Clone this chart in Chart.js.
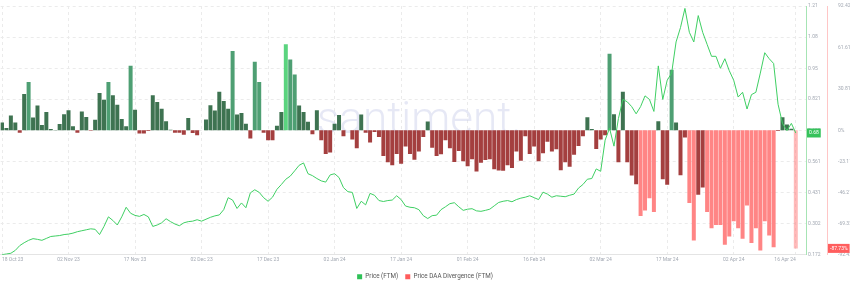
<!DOCTYPE html>
<html>
<head>
<meta charset="utf-8">
<script src="https://cdn.jsdelivr.net/npm/chart.js@4.4.1/dist/chart.umd.min.js"></script>
<style>
  html, body { margin: 0; padding: 0; background: #fff; }
</style>
</head>
<body>
<canvas id="chart" width="850" height="288"></canvas>
<script>
// daily FTM price, 18 Oct 23 -> 16 Apr 24
const price = [
  0.172, 0.175, 0.178, 0.19, 0.21, 0.222, 0.232, 0.239, 0.236, 0.232,
  0.24, 0.248, 0.25, 0.252, 0.256, 0.258, 0.262, 0.268, 0.272, 0.276,
  0.28, 0.278, 0.256, 0.29, 0.33, 0.315, 0.296, 0.33, 0.37, 0.345,
  0.336, 0.332, 0.34, 0.33, 0.29, 0.296, 0.305, 0.322, 0.31, 0.3,
  0.293, 0.305, 0.31, 0.312, 0.318, 0.312, 0.32, 0.328, 0.334, 0.338,
  0.36, 0.41, 0.4, 0.365, 0.388, 0.368, 0.43, 0.443, 0.432, 0.41,
  0.395, 0.412, 0.445, 0.465, 0.487, 0.5, 0.522, 0.545, 0.555, 0.51,
  0.502, 0.49, 0.48, 0.475, 0.505, 0.51, 0.494, 0.452, 0.435, 0.432,
  0.365, 0.395, 0.38, 0.428, 0.42, 0.398, 0.394, 0.398, 0.4, 0.418,
  0.402, 0.375, 0.37, 0.368, 0.36, 0.335, 0.323, 0.335, 0.337, 0.36,
  0.372, 0.385, 0.389, 0.372, 0.357, 0.362, 0.364, 0.355, 0.353, 0.357,
  0.362, 0.376, 0.39, 0.395, 0.398, 0.393, 0.402, 0.408, 0.412, 0.418,
  0.41, 0.402, 0.433, 0.425, 0.412, 0.418, 0.416, 0.414, 0.42, 0.425,
  0.45, 0.465, 0.487, 0.49, 0.53, 0.52, 0.65, 0.7, 0.625, 0.74,
  0.82, 0.81, 0.79, 0.76, 0.79, 0.835, 0.82, 0.77, 0.96, 0.82,
  0.9, 0.93, 1.06, 1.12, 1.2, 1.1, 1.06, 1.17, 1.1, 1.05,
  1.0, 1.0, 0.95, 0.99, 0.94, 0.9, 0.83, 0.85, 0.78, 0.84,
  0.85, 0.93, 1.015, 0.99, 0.97, 0.8, 0.72, 0.69, 0.72, 0.68
];

// price DAA divergence, %
const divergence = [
  5.8, 1.7, 11, 5.8, -1.7, 27, 36, 9.5, 18.4, 4,
  13.6, 1, 0.3, 4.8, 12, 15, 3, -1.7, 14, 10,
  -0.3, 7.8, 27.7, 22.8, 36, 26, 19, 8.5, 3, 48,
  15.3, -2.4, -2.4, -0.5, 26, 21, 16, 6.8, 0.5, -1.7,
  -1.7, -3.2, 9.2, -2, -3.6, 0, 8, 18.7, 14.8, 28.6,
  21.8, 16, 59, 11.7, 12.9, 4.9, -6, 51, 36, -1.7,
  -7.3, -7.3, 3.4, 13.6, 64, 52.7, 41.5, 18.4, 13.6, 6.3,
  -2.9, 15, -7.3, -17.5, -16.5, 4.9, 11.4, -4.4, 0, -6.8,
  -13.3, 11.7, -1.7, -9, -1.2, -4.9, -19, -23.8, -26, -17.5,
  -24.8, -12, -17.5, -21.8, -15.8, -4.9, 6.6, -12.9, -19, -17.7,
  -7.3, -13.3, -23.5, -15.3, -23, -26.7, -21.4, -30.6, -24, -22,
  -21.4, -29, -29.8, -30, -26, -28, -15.8, -22.6, -4.4, -17.5,
  -12, -23, -17, -8.5, -15.8, -14, -29.6, -23.8, -27, -18.2,
  -11.6, -4.4, 9.7, 1, -13.8, -6.8, -3.6, 57, 12, -23.8,
  28.6, -23.8, -33.5, -40, -63.6, -59.5, -50.5, -60.7, 6.8, -36.4,
  -40.5, 45, 5.8, -33.3, -5.3, -54, -81.8, -47.8, -42.5, -60.7,
  -72.8, -70.4, -70.4, -85, -78.9, -67.5, -72.8, -80.6, -55.8, -83.7,
  -72.8, -89.3, -67.5, -78.2, -86.9, -0.5, 9.7, 4.4, 1.2, -87.73
];

const tickIndex = [0, 15, 30, 45, 60, 75, 90, 105, 120, 135, 150, 165, 179];
const tickLabels = ['18 Oct 23', '02 Nov 23', '17 Nov 23', '02 Dec 23', '17 Dec 23', '02 Jan 24',
  '17 Jan 24', '01 Feb 24', '16 Feb 24', '02 Mar 24', '17 Mar 24', '02 Apr 24', '16 Apr 24'];
const priceTicks = [0.172, 0.302, 0.431, 0.561, 0.691, 0.821, 0.95, 1.08, 1.21];
const pctTicks = [-92.42, -69.32, -46.21, -23.11, 0, 30.81, 61.61, 92.42];

const FONT = 'Roboto';
const tickColor = '#a3a9b3';
const legendColors = ['#2fc157', '#ff5c5c'];

const barColor = (c) => {
    if (!c.raw) return legendColors[1];
    const v = c.raw.y;
    if (c.dataIndex === divergence.length - 1) return 'rgba(255, 130, 130, 0.55)';
    if (v >= 60) return '#5bd47f';
    if (v >= 35) return '#4e9f73';
    if (v >= 0) return '#3e7351';
    if (v <= -50) return '#ff8585';
    return '#a43f3f';
};

const watermark = {
    id: 'watermark',
    beforeDatasetsDraw(chart) {
        const { ctx, chartArea } = chart;
        ctx.save();
        ctx.font = '300 44px ' + FONT;
        ctx.fillStyle = 'rgba(200, 204, 232, 0.45)';
        ctx.textAlign = 'center';
        ctx.textBaseline = 'alphabetic';
        ctx.fillText('santiment.', chartArea.left + chartArea.width * 0.52, 133);
        ctx.restore();
    }
};

const drawTag = (ctx, x, y, text, bg) => {
    ctx.font = '5px ' + FONT;
    const w = ctx.measureText(text).width + 4;
    ctx.fillStyle = bg;
    ctx.fillRect(x, y - 4.5, w, 9);
    ctx.fillStyle = '#fff';
    ctx.textAlign = 'left';
    ctx.textBaseline = 'middle';
    ctx.fillText(text, x + 2, y);
};

const lastTags = {
    id: 'lastTags',
    afterDraw(chart) {
        const { ctx, scales } = chart;
        const p = price[price.length - 1];
        const d = divergence[divergence.length - 1];
        ctx.save();
        drawTag(ctx, scales.price.left + 1, scales.price.getPixelForValue(p), p.toFixed(2), '#35c25b');
        drawTag(ctx, scales.pct.left + 1, scales.pct.getPixelForValue(d), d.toFixed(2) + '%', '#ff5e5e');
        ctx.restore();
    }
};

new Chart(document.getElementById('chart'), {
    data: {
        datasets: [{
            type: 'line',
            label: 'Price (FTM)',
            data: price.map((v, i) => ({ x: i, y: v })),
            yAxisID: 'price',
            borderColor: '#3fcf63',
            backgroundColor: legendColors[0],
            borderWidth: 1,
            pointRadius: 0,
            tension: 0,
            order: 0
        },
        {
            type: 'bar',
            label: 'Price DAA Divergence (FTM)',
            data: divergence.map((v, i) => ({ x: i, y: v })),
            yAxisID: 'pct',
            backgroundColor: barColor,
            borderWidth: 0,
            barPercentage: 0.9,
            categoryPercentage: 1,
            order: 1
        }]
    },
    options: {
        responsive: false,
        animation: false,
        layout: { padding: { top: 0, bottom: -2, left: 0, right: 0 } },
        plugins: {
            legend: {
                position: 'bottom',
                labels: {
                    boxWidth: 5,
                    boxHeight: 5,
                    padding: 7,
                    color: '#555',
                    font: { size: 6.3, family: FONT },
                    generateLabels: chart => Chart.defaults.plugins.legend.labels.generateLabels(chart)
                        .map((item, i) => Object.assign(item, {
                            fillStyle: legendColors[i],
                            strokeStyle: legendColors[i],
                            lineWidth: 0
                        }))
                }
            },
            tooltip: { enabled: false }
        },
        scales: {
            x: {
                type: 'linear',
                offset: false,
                min: -0.3,
                max: 181.3,
                afterBuildTicks: s => { s.ticks = tickIndex.map(v => ({ value: v })); },
                afterFit: s => { s.height = 12; },
                ticks: {
                    callback: v => tickLabels[tickIndex.indexOf(v)],
                    align: 'inner',
                    maxRotation: 0,
                    autoSkip: false,
                    color: tickColor,
                    font: { size: 5, family: FONT },
                    padding: 2
                },
                grid: { color: '#ebebeb', drawTicks: false, offset: false },
                border: { color: '#e4e4e4', dash: [3, 3] }
            },
            price: {
                position: 'right',
                weight: 1,
                min: 0.172,
                max: 1.21,
                afterBuildTicks: s => { s.ticks = priceTicks.map(v => ({ value: v })); },
                afterFit: s => { s.width = 21; },
                ticks: {
                    callback: v => String(v),
                    color: tickColor,
                    font: { size: 5, family: FONT },
                    padding: 2
                },
                grid: { color: '#ebebeb', drawTicks: false },
                border: { color: '#a6e4b4', dash: [3, 3] }
            },
            pct: {
                position: 'right',
                weight: 2,
                min: -92.42,
                max: 92.42,
                afterBuildTicks: s => { s.ticks = pctTicks.map(v => ({ value: v })); },
                afterFit: s => { s.width = 23; },
                ticks: {
                    callback: v => v + '%',
                    color: tickColor,
                    font: { size: 5, family: FONT },
                    padding: 3
                },
                grid: { display: false },
                border: { color: '#ffc6c6' }
            }
        }
    },
    plugins: [watermark, lastTags]
});
</script>
</body>
</html>
